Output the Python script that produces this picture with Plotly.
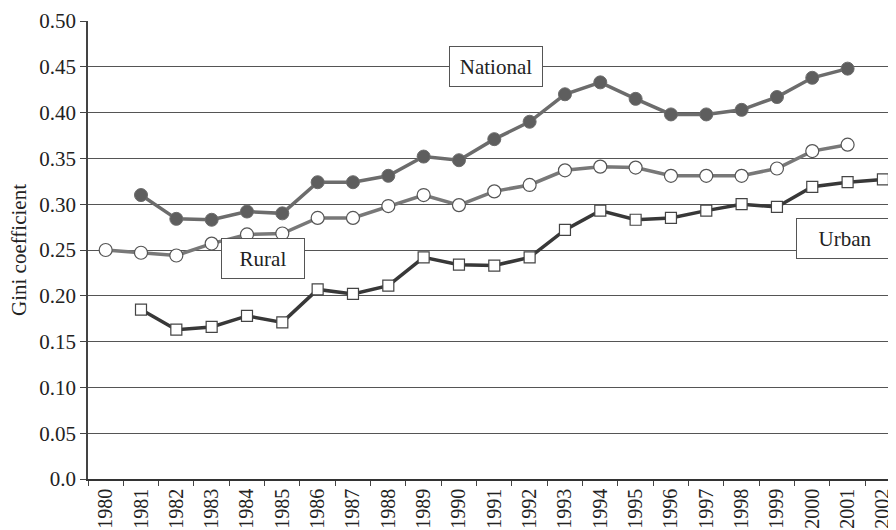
import plotly.graph_objects as go

years = [str(y) for y in range(1980, 2003)]

national = [None, 0.310, 0.284, 0.283, 0.292, 0.290, 0.324, 0.324, 0.331, 0.352,
            0.348, 0.371, 0.390, 0.420, 0.433, 0.415, 0.398, 0.398, 0.403, 0.417,
            0.438, 0.448, None]
rural = [0.250, 0.247, 0.244, 0.257, 0.267, 0.268, 0.285, 0.285, 0.298, 0.310,
         0.299, 0.314, 0.321, 0.337, 0.341, 0.340, 0.331, 0.331, 0.331, 0.339,
         0.358, 0.365, None]
urban = [None, 0.185, 0.163, 0.166, 0.178, 0.171, 0.207, 0.202, 0.211, 0.242,
         0.234, 0.233, 0.242, 0.272, 0.293, 0.283, 0.285, 0.293, 0.300, 0.297,
         0.319, 0.324, 0.327]

y_ticks = [0.0, 0.05, 0.10, 0.15, 0.20, 0.25, 0.30, 0.35, 0.40, 0.45, 0.50]
y_tick_text = ["0.0", "0.05", "0.10", "0.15", "0.20", "0.25", "0.30", "0.35",
               "0.40", "0.45", "0.50"]

labels = ["National", "Rural", "Urban"]
label_x = [11.05, 4.45, 20.93]      # category index positions
label_y = [0.450, 0.241, 0.263]
label_w = [92, 82, 96]

FONT = "Liberation Serif, Times New Roman, serif"

fig = go.Figure()

fig.add_trace(go.Scatter(
    x=years, y=national, mode="lines+markers", name="National",
    line=dict(color="#6c6c6c", width=3.5),
    marker=dict(symbol="circle", size=13, color="#5e5e5e",
                line=dict(color="#6c6c6c", width=1)),
))
fig.add_trace(go.Scatter(
    x=years, y=rural, mode="lines+markers", name="Rural",
    line=dict(color="#787878", width=3.5),
    marker=dict(symbol="circle", size=13, color="white",
                line=dict(color="#555555", width=1.2)),
))
fig.add_trace(go.Scatter(
    x=years, y=urban, mode="lines+markers", name="Urban",
    line=dict(color="#383838", width=3.5),
    marker=dict(symbol="square", size=11, color="white",
                line=dict(color="#444444", width=1.2)),
))

for t, xv, yv, w in zip(labels, label_x, label_y, label_w):
    fig.add_annotation(
        x=xv, y=yv, xref="x", yref="y", text=t, showarrow=False,
        font=dict(family=FONT, size=21, color="#222"),
        bgcolor="white", bordercolor="#555", borderwidth=1, borderpad=0,
        width=w, height=39, align="center", valign="middle",
    )

fig.add_annotation(
    x=0, y=0.5, xref="paper", yref="paper", text="Gini coefficient",
    showarrow=False, textangle=-90, xanchor="center", yanchor="middle",
    xshift=-69, font=dict(family=FONT, size=21, color="#222"),
)

# page body has an 8px default margin; margins compensate so the plot
# area lands where the reference shows it
fig.update_layout(
    width=896, height=530,
    margin=dict(l=80, r=8, t=13, b=59, pad=0),
    paper_bgcolor="white", plot_bgcolor="white",
    showlegend=False,
    font=dict(family=FONT, size=21, color="#222"),
)

fig.update_xaxes(
    type="category", categoryorder="array", categoryarray=years,
    range=[-0.5, 22.37], tickson="boundaries",
    ticks="outside", ticklen=5, tickcolor="#444", tickwidth=1.2,
    tickangle=-90, tickfont=dict(family=FONT, size=20, color="#222"),
    showgrid=False, showline=True, linecolor="#333", linewidth=1.5,
    zeroline=False, automargin=False,
)
fig.update_yaxes(
    range=[0, 0.5], tickvals=y_ticks, ticktext=y_tick_text,
    ticks="outside", ticklen=6, tickcolor="#444", tickwidth=1.2,
    tickfont=dict(family=FONT, size=21, color="#222"),
    showgrid=True, gridcolor="#555", gridwidth=1,
    showline=True, linecolor="#444", linewidth=1.5, zeroline=False,
    automargin=False,
)

fig.write_html("out.html")
